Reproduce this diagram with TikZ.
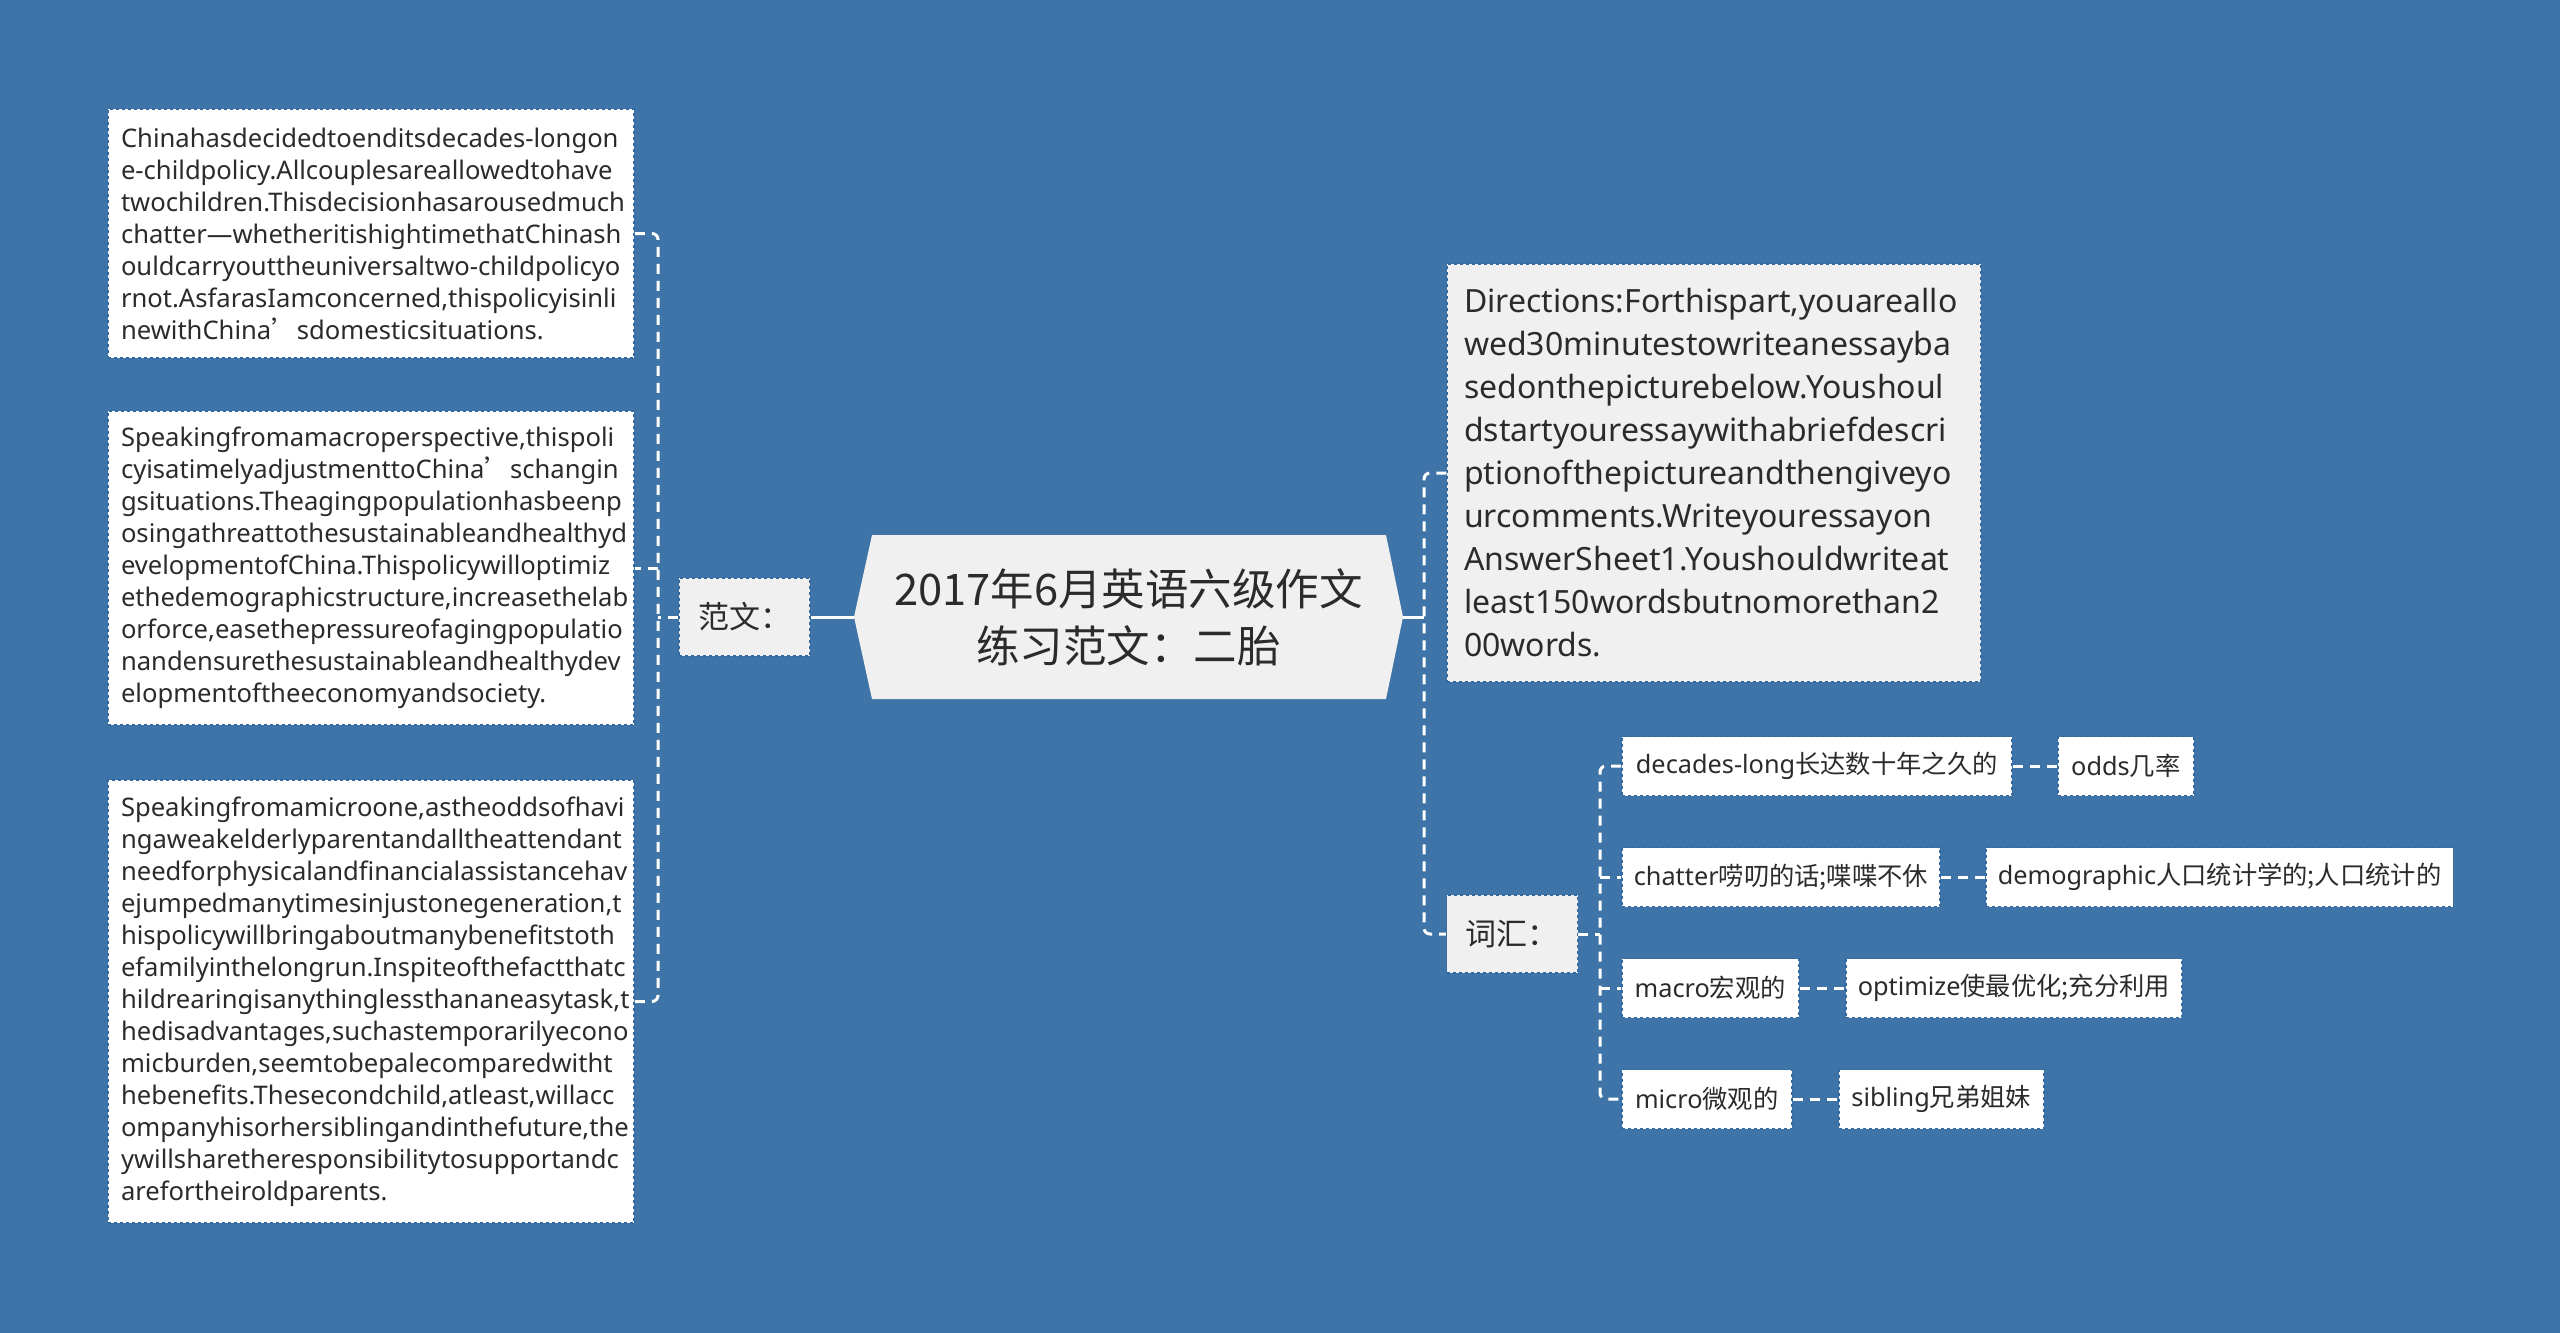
\documentclass[tikz,border=0pt]{standalone}
\usepackage{fontspec}
\setmainfont{Noto Sans}
\newfontfamily\cjk{Noto Sans CJK SC}
\definecolor{bg}{HTML}{3E74A7}
\definecolor{txt}{HTML}{2B2B2B}
\definecolor{lgray}{HTML}{F0F0F0}
\definecolor{bord}{HTML}{3468A0}
\tikzset{
  conn/.style={draw=white, line width=3pt, dash pattern=on 10pt off 7pt, rounded corners=6pt},
  solidconn/.style={draw=white, line width=3pt},
  para/.style={fill=white, draw=bord, dashed, line width=1.5pt, text=txt, align=left,
    inner xsep=13pt, inner ysep=0pt, text width=500pt, font=\fontsize{25.6}{32}\selectfont},
  dirbox/.style={fill=lgray, draw=bord, dashed, line width=1.5pt, text=txt, align=left,
    inner xsep=17pt, inner ysep=0pt, text width=500pt, font=\fontsize{32}{43}\selectfont},
  lbl/.style={fill=lgray, draw=bord, dashed, line width=1.5pt, text=txt,
    minimum width=131pt, minimum height=78pt, inner sep=0pt, font=\cjk\fontsize{31}{36}\selectfont},
  vocab/.style={fill=white, draw=bord, dashed, line width=1.5pt, text=txt, anchor=west,
    minimum height=59pt, inner xsep=12pt, inner ysep=0pt, font=\fontsize{25.3}{30}\selectfont},
}
\begin{document}
\begin{tikzpicture}[x=1pt,y=-1pt]
\fill[bg] (0,0) rectangle (2560,1333);
\useasboundingbox (0,0) rectangle (2560,1333);

% central topic
\fill[lgray] (872,535) -- (1386,535) -- (1403,617) -- (1386,699) -- (872,699) -- (854,617) -- cycle;
\coordinate (cL) at (854,617);
\coordinate (cR) at (1403,617);
\node[text=txt, align=center, font=\cjk\fontsize{43.5}{57}\selectfont] (c) at (1128.5,617)
  {2017年6月英语六级作文\\练习范文：二胎};

% left branch
\node[lbl] (fw) at (744.5,617) {范文：};
\node[para, minimum height=249pt] (b1) at (371,233.5) {%
Chinahasdecidedtoenditsdecades-longon\\
e-childpolicy.Allcouplesareallowedtohave\\
twochildren.Thisdecisionhasarousedmuch\\
chatter—whetheritishightimethatChinash\\
ouldcarryouttheuniversaltwo-childpolicyo\\
rnot.AsfarasIamconcerned,thispolicyisinli\\
newithChina{\cjk ’}sdomesticsituations.};
\node[para, minimum height=314pt] (b2) at (371,568) {%
Speakingfromamacroperspective,thispoli\\
cyisatimelyadjustmenttoChina{\cjk ’}schangin\\
gsituations.Theagingpopulationhasbeenp\\
osingathreattothesustainableandhealthyd\\
evelopmentofChina.Thispolicywilloptimiz\\
ethedemographicstructure,increasethelab\\
orforce,easethepressureofagingpopulatio\\
nandensurethesustainableandhealthydev\\
elopmentoftheeconomyandsociety.};
\node[para, minimum height=443pt] (b3) at (371,1001.5) {%
Speakingfromamicroone,astheoddsofhavi\\
ngaweakelderlyparentandalltheattendant\\
needforphysicalandfinancialassistancehav\\
ejumpedmanytimesinjustonegeneration,t\\
hispolicywillbringaboutmanybenefitstoth\\
efamilyinthelongrun.Inspiteofthefactthatc\\
hildrearingisanythinglessthananeasytask,t\\
hedisadvantages,suchastemporarilyecono\\
micburden,seemtobepalecomparedwitht\\
hebenefits.Thesecondchild,atleast,willacc\\
ompanyhisorhersiblingandinthefuture,the\\
ywillsharetheresponsibilitytosupportandc\\
arefortheiroldparents.};

\coordinate (lsp) at (658,617);
\draw[solidconn] (cL) -- (fw.east);
\draw[conn] (fw.west) -- (lsp);
\draw[conn] (b1.east) -| (lsp) |- (b3.east);
\draw[conn] (lsp |- b2.east) -- (b2.east);

% right branch
\node[dirbox, minimum height=418pt] (dir) at (1714,473) {%
Directions:Forthispart,youareallo\\
wed30minutestowriteanessayba\\
sedonthepicturebelow.Youshoul\\
dstartyouressaywithabriefdescri\\
ptionofthepictureandthengiveyo\\
urcomments.Writeyouressayon\\
AnswerSheet1.Youshouldwriteat\\
least150wordsbutnomorethan2\\
00words.};
\node[lbl] (cih) at (1512,934) {词汇：};

\coordinate (rsp) at (1424,617);
\draw[solidconn] (cR) -- (rsp);
\draw[conn] (dir.west) -| (rsp) |- (cih.west);

% vocabulary
\node[vocab, minimum width=390pt] (v1) at (1621,766) {decades-long{\cjk 长达数十年之久的}};
\node[vocab, minimum width=136pt] (w1) at (2057,766) {odds{\cjk 几率}};
\node[vocab, minimum width=317pt] (v2) at (1621,877) {chatter{\cjk 唠叨的话;喋喋不休}};
\node[vocab, minimum width=467pt] (w2) at (1985,877) {demographic{\cjk 人口统计学的;人口统计的}};
\node[vocab, minimum width=177pt] (v3) at (1621,988) {macro{\cjk 宏观的}};
\node[vocab, minimum width=335pt] (w3) at (1845,988) {optimize{\cjk 使最优化;充分利用}};
\node[vocab, minimum width=170pt] (v4) at (1621,1099) {micro{\cjk 微观的}};
\node[vocab, minimum width=205pt] (w4) at (1838,1099) {sibling{\cjk 兄弟姐妹}};

\coordinate (vsp) at (1600,934);
\draw[conn] (cih.east) -- (vsp);
\draw[conn] (v1.west) -| (vsp) |- (v4.west);
\draw[conn] (vsp |- v2.west) -- (v2.west);
\draw[conn] (vsp |- v3.west) -- (v3.west);
\draw[conn] (v1.east) -- (w1.west);
\draw[conn] (v2.east) -- (w2.west);
\draw[conn] (v3.east) -- (w3.west);
\draw[conn] (v4.east) -- (w4.west);
\end{tikzpicture}
\end{document}
